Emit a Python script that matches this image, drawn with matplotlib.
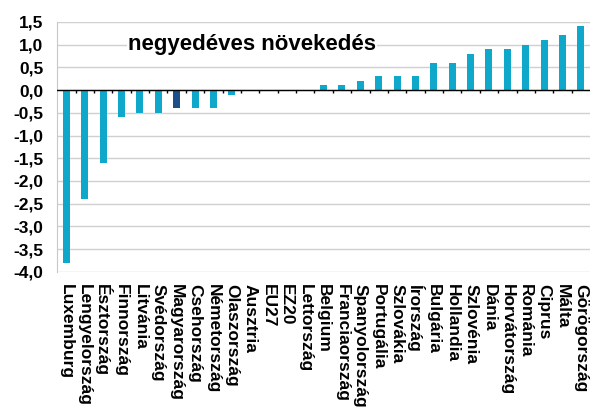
import numpy as np
import matplotlib
matplotlib.use('Agg')
import matplotlib.pyplot as plt

countries = ['Luxemburg', 'Lengyelország', 'Észtország', 'Finnország', 'Litvánia',
             'Svédország', 'Magyarország', 'Csehország', 'Németország', 'Olaszország',
             'Ausztria', 'EU27', 'EZ20', 'Lettország', 'Belgium', 'Franciaország',
             'Spanyolország', 'Portugália', 'Szlovákia', 'Írország', 'Bulgária',
             'Hollandia', 'Szlovénia', 'Dánia', 'Horvátország', 'Románia', 'Ciprus',
             'Málta', 'Görögország']
growth = [-3.8, -2.4, -1.6, -0.6, -0.5, -0.5, -0.4, -0.4, -0.4, -0.1,
          0.0, 0.0, 0.0, 0.0, 0.1, 0.1, 0.2, 0.3, 0.3, 0.3,
          0.6, 0.6, 0.8, 0.9, 0.9, 1.0, 1.1, 1.2, 1.4]
highlight = 'Magyarország'

plt.rcParams['font.family'] = ['Liberation Sans', 'DejaVu Sans']
plt.rcParams['font.weight'] = 'bold'

fig = plt.figure(figsize=(5.9, 4.12), dpi=100)
ax = fig.add_axes([0.097, 0.34, 0.903, 0.607])

x = np.arange(len(countries))
colors = ['#1d4e89' if c == highlight else '#0fa8cb' for c in countries]
ax.bar(x, growth, width=0.38, color=colors, zorder=3)

ax.set_xlim(-0.5, len(countries) - 0.5)
ax.set_ylim(-4.0, 1.5)
yt = np.arange(-4.0, 1.51, 0.5)
ax.set_yticks(yt)
ax.set_yticklabels([f'{v:.1f}'.replace('.', ',') for v in yt], fontsize=12.5, fontweight='bold')
ax.yaxis.grid(True, color='#d0d0d0', linewidth=1, zorder=0)
ax.tick_params(axis='y', length=0, pad=10)

ax.set_xticks(x)
ax.set_xticklabels(countries, rotation=-90, fontsize=12.5, fontweight='bold', va='top', ha='center')
ax.tick_params(axis='x', length=0, pad=9)

# zero line with category separators
ax.axhline(0, color='black', linewidth=1, zorder=4)
ax.vlines(x[:-1] + 0.5, -0.06, 0, color='black', linewidth=1, zorder=4)

for s in ['top', 'right', 'bottom']:
    ax.spines[s].set_visible(False)
ax.spines['left'].set_color('#c8c8c8')

ax.text(0.133, 0.908, 'negyedéves növekedés', transform=ax.transAxes,
        fontsize=16, fontweight='bold', va='center', ha='left', zorder=5,
        bbox=dict(facecolor='white', edgecolor='none', pad=1))

fig.savefig('out.png', dpi=100)
